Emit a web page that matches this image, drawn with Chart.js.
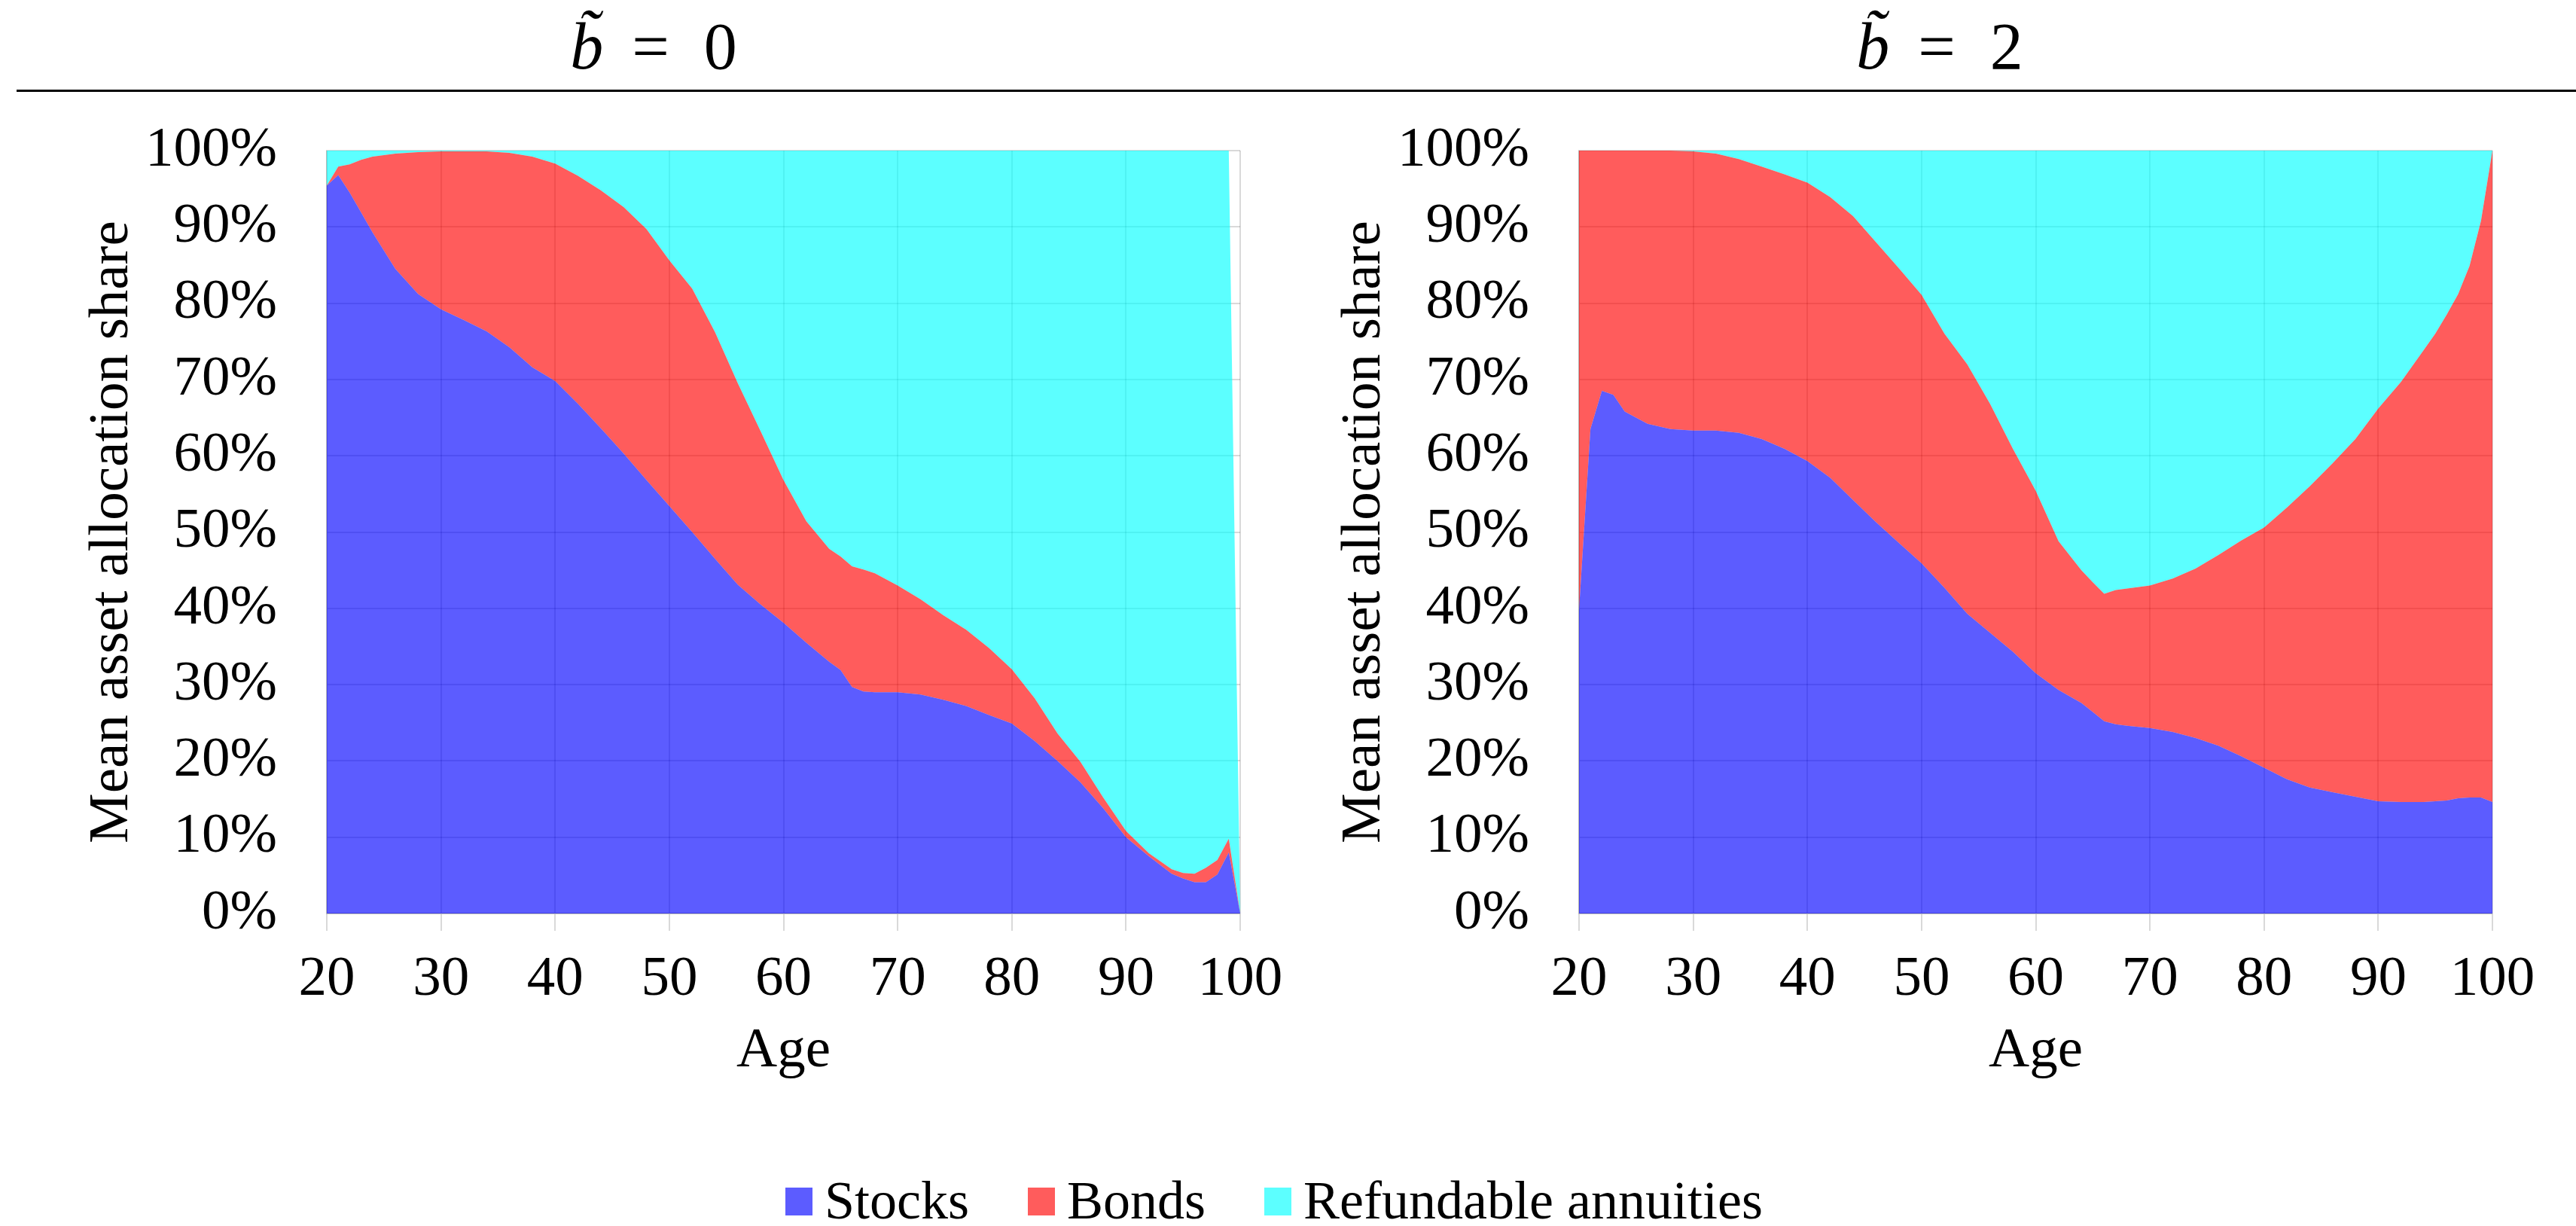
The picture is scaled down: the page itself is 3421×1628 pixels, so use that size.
<!DOCTYPE html>
<html>
<head>
<meta charset="utf-8">
<script src="https://cdn.jsdelivr.net/npm/chart.js@4.4.1/dist/chart.umd.min.js"></script>
<style>
  html, body { margin: 0; padding: 0; background: #fff; }
  #page {
    position: relative; width: 3421px; height: 1628px; overflow: hidden;
    font-family: "Liberation Serif", "Times New Roman", serif; color: #000;
  }
  .panel-title {
    position: absolute; top: 7px; width: 600px; height: 110px;
    font-size: 88px; line-height: 110px; text-align: center; white-space: nowrap;
  }
  .panel-title i { font-style: italic; }
  .panel-title .eq { margin: 0 46px 0 38px; }
  .rule { position: absolute; left: 22px; right: 0; top: 119px; height: 3px; background: #000; }
  .chart-box { position: absolute; top: 150px; width: 1727px; height: 1330px; }
  #legend {
    position: absolute; left: 1043px; top: 1558px; height: 72px;
    display: flex; align-items: flex-start;
    font-size: 72px; line-height: 72px; white-space: nowrap;
  }
  #legend .item { display: flex; align-items: flex-start; margin-right: 78px; }
  #legend .swatch { width: 36px; height: 37px; margin-top: 19px; margin-right: 16px; }
</style>
</head>
<body>
<div id="page">
  <div class="panel-title" style="left:568px"><i>b&#771;</i><span class="eq">=</span>0</div>
  <div class="panel-title" style="left:2276px"><i>b&#771;</i><span class="eq">=</span>2</div>
  <div class="rule"></div>
  <div class="chart-box" style="left:0px"><canvas id="chartLeft" width="1727" height="1330"></canvas></div>
  <div class="chart-box" style="left:1663px"><canvas id="chartRight" width="1727" height="1330"></canvas></div>
  <div id="legend"></div>
</div>
<script>
const ages = [20, 21, 22, 23, 24, 26, 28, 30, 32, 34, 36, 38, 40, 42, 44, 46, 48, 50, 52, 54, 56, 58, 60, 62,
  64, 65, 66, 67, 68, 70, 72, 74, 76, 78, 80, 82, 84, 86, 88, 90, 92, 94, 95, 96, 97, 98, 99, 100];

// b~ = 0
const leftStocks = [95.4, 96.8, 94.5, 91.9, 89.3, 84.5, 81.2, 79.2, 77.8, 76.3, 74.2, 71.6, 69.8, 66.8, 63.6, 60.3,
  56.8, 53.4, 50.0, 46.5, 43.1, 40.5, 38.1, 35.5, 33.0, 31.9, 29.7, 29.1, 29.0, 29.0, 28.7, 28.0, 27.2, 26.0,
  24.9, 22.6, 20.0, 17.2, 13.8, 10.0, 7.5, 5.2, 4.6, 4.1, 4.1, 5.1, 8.0, 0];
const leftBonds = [0.0, 1.1, 3.7, 6.9, 9.9, 15.1, 18.6, 20.7, 22.1, 23.6, 25.5, 27.6, 28.5, 29.9, 31.2, 32.3,
  32.9, 32.2, 31.9, 29.7, 26.4, 22.7, 18.7, 15.9, 14.8, 14.9, 15.8, 16.0, 15.6, 14.0, 12.5, 11.1, 10.0, 8.8,
  7.1, 5.6, 3.6, 2.7, 1.4, 0.8, 0.4, 0.6, 0.7, 1.1, 1.9, 1.9, 1.8, 0];
const leftAnnuities = [4.6, 2.1, 1.8, 1.2, 0.8, 0.4, 0.2, 0.1, 0.1, 0.1, 0.3, 0.8, 1.7, 3.3, 5.2, 7.4,
  10.3, 14.4, 18.1, 23.8, 30.5, 36.8, 43.2, 48.6, 52.2, 53.2, 54.5, 54.9, 55.4, 57.0, 58.8, 60.9, 62.8, 65.2,
  68.0, 71.8, 76.4, 80.1, 84.8, 89.2, 92.1, 94.2, 94.7, 94.8, 94.0, 93.0, 90.2, 0];

// b~ = 2
const rightStocks = [39.8, 63.5, 68.5, 68.0, 65.8, 64.2, 63.5, 63.3, 63.3, 63.0, 62.2, 60.9, 59.3, 57.1, 54.2, 51.3,
  48.6, 45.9, 42.7, 39.3, 36.8, 34.3, 31.5, 29.3, 27.6, 26.4, 25.2, 24.8, 24.6, 24.3, 23.8, 23.0, 22.0, 20.6,
  19.1, 17.6, 16.5, 15.9, 15.3, 14.7, 14.6, 14.6, 14.7, 14.8, 15.1, 15.2, 15.2, 14.6];
const rightBonds = [60.2, 36.5, 31.5, 32.0, 34.2, 35.8, 36.5, 36.6, 36.3, 35.9, 35.7, 36.0, 36.5, 36.8, 37.2, 36.7,
  36.0, 35.2, 33.3, 32.7, 30.0, 26.6, 23.9, 19.5, 17.4, 17.0, 16.7, 17.6, 18.0, 18.7, 20.1, 22.2, 25.0, 28.3,
  31.5, 35.6, 39.5, 43.1, 46.9, 51.5, 55.1, 59.3, 61.3, 63.7, 66.1, 69.7, 75.6, 85.4];
const rightAnnuities = [0, 0, 0, 0, 0, 0, 0, 0.1, 0.4, 1.1, 2.1, 3.1, 4.2, 6.1, 8.6, 12.0,
  15.4, 18.9, 24.0, 28.0, 33.2, 39.1, 44.6, 51.2, 55.0, 56.6, 58.1, 57.6, 57.4, 57.0, 56.1, 54.8, 53.0, 51.1,
  49.4, 46.8, 44.0, 41.0, 37.8, 33.8, 30.3, 26.1, 24.0, 21.5, 18.8, 15.1, 9.2, 0];

const seriesNames = ["Stocks", "Bonds", "Refundable annuities"];
const seriesColors = ["rgba(0,0,255,0.64)", "rgba(255,0,0,0.64)", "rgba(0,255,255,0.64)"];

const FONT = "'Liberation Serif', 'Times New Roman', serif";
const gridColor = "rgba(0,0,0,0.15)";

function makeChart(id, seriesList) {
  const datasets = seriesList.map((vals, i) => ({
    label: seriesNames[i],
    data: ages.map((a, j) => ({ x: a, y: vals[j] })),
    backgroundColor: seriesColors[i],
    borderWidth: 0,
    pointRadius: 0,
    tension: 0,
    fill: i === 0 ? "origin" : "-1",
  }));

  return new Chart(document.getElementById(id), {
    type: "line",
    data: { datasets },
    options: {
      responsive: false,
      animation: false,
      layout: { padding: { top: 50, right: 80, bottom: 0, left: 0 } },
      plugins: { legend: { display: false }, tooltip: { enabled: false } },
      scales: {
        x: {
          type: "linear",
          min: 20,
          max: 100,
          ticks: { stepSize: 10, color: "#000", font: { family: FONT, size: 75 }, padding: 20, maxRotation: 0 },
          grid: { color: gridColor, lineWidth: 2, tickLength: 23 },
          border: { color: gridColor, width: 2 },
          title: { display: true, text: "Age", color: "#000", font: { family: FONT, size: 75 }, padding: { top: 0, bottom: 39 } },
          afterFit: (s) => { s.height = 267; },
        },
        y: {
          stacked: true,
          min: 0,
          max: 100,
          // gap between labels and plot comes from an invisible tick, so it does not pad the top
          ticks: { stepSize: 10, color: "#000", font: { family: FONT, size: 75 }, padding: 0, callback: (v) => v + "%" },
          grid: { color: gridColor, lineWidth: 2, drawTicks: true, tickLength: 66, tickColor: "rgba(0,0,0,0)" },
          border: { color: gridColor, width: 2 },
          title: { display: true, text: "Mean asset allocation share", color: "#000", font: { family: FONT, size: 75 }, padding: { top: 104, bottom: 0 } },
          afterFit: (s) => { s.width = 434; },
        },
      },
    },
  });
}

makeChart("chartLeft", [leftStocks, leftBonds, leftAnnuities]);
makeChart("chartRight", [rightStocks, rightBonds, rightAnnuities]);

// shared legend
const legend = document.getElementById("legend");
seriesNames.forEach((name, i) => {
  const item = document.createElement("div");
  item.className = "item";
  const sw = document.createElement("div");
  sw.className = "swatch";
  sw.style.background = seriesColors[i];
  const label = document.createElement("span");
  label.textContent = name;
  item.appendChild(sw);
  item.appendChild(label);
  legend.appendChild(item);
});
</script>
</body>
</html>
